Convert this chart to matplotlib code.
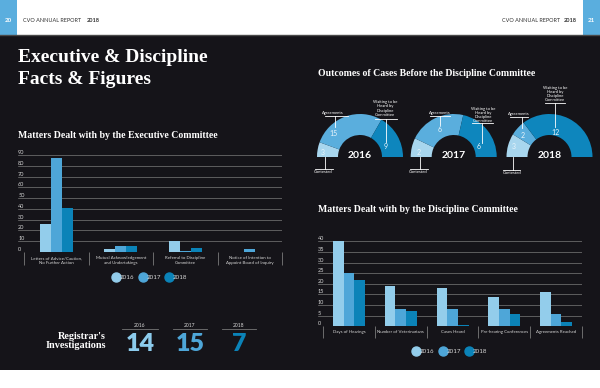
import matplotlib
matplotlib.use("Agg")
import matplotlib.pyplot as plt
import numpy as np
from matplotlib.lines import Line2D
from matplotlib.patches import Rectangle

# Data
years = ["2016", "2017", "2018"]

exec_categories = ["Letters of Advice/Caution,\nNo Further Action",
                   "Mutual Acknowledgement\nand Undertakings",
                   "Referral to Discipline\nCommittee",
                   "Notice of Intention to\nAppoint Board of Inquiry"]
exec_2016 = [26, 3, 10, 0]
exec_2017 = [87, 6, 1, 3]
exec_2018 = [41, 6, 4, 0]

disc_categories = ["Days of Hearings", "Number of Veterinarians", "Cases Heard",
                   "Pre-hearing Conferences", "Agreements Reached"]
disc_2016 = [40, 19, 18, 14, 16]
disc_2017 = [25, 8, 8, 8, 6]
disc_2018 = [22, 7, 0.5, 6, 2]

outcome_labels = ["Contested", "Agreements", "Waiting to be\nHeard by\nDiscipline\nCommittee"]
outcomes_2016 = [3, 15, 9]
outcomes_2017 = [2, 6, 6]
outcomes_2018 = [3, 2, 12]

registrar_investigations = [14, 15, 7]

# Style
W, H = 600, 388
DARK = "#151419"
year_colors = ["#93cdeb", "#4ea6d8", "#0b83b8"]
ring_colors = ["#a8d6ee", "#5aaedd", "#0e86bd"]
SERIF = "Liberation Serif"
SANS = "Lato"
LIGHT = "#d6d6d6"
GRID = "#7a7a7a"

fig = plt.figure(figsize=(W / 100, H / 100), dpi=100, facecolor="white")

bg = fig.add_axes([0, 0, 1, 1])
bg.set_xlim(0, W)
bg.set_ylim(H, 0)
bg.axis("off")
bg.add_patch(Rectangle((0, 35), W, 335, color=DARK, lw=0))
bg.plot([0, W], [35, 35], color="#4a4a4a", lw=1)
bg.add_patch(Rectangle((0, 0), 17, 35, color="#5aaede", lw=0))
bg.add_patch(Rectangle((583, 0), 17, 35, color="#5aaede", lw=0))
bg.text(8.5, 20, "20", color="white", fontsize=4.5, fontweight="bold", family=SANS, ha="center", va="center")
bg.text(591.5, 20, "21", color="white", fontsize=4.5, fontweight="bold", family=SANS, ha="center", va="center")
bg.text(23, 20, "CVO ANNUAL REPORT", color="#333333", fontsize=4.0, family=SANS, ha="left", va="center")
bg.text(86.5, 20, "2018", color="#333333", fontsize=4.0, fontweight="bold", family=SANS, ha="left", va="center")
bg.text(560.5, 20, "CVO ANNUAL REPORT", color="#333333", fontsize=4.0, family=SANS, ha="right", va="center")
bg.text(577, 20, "2018", color="#333333", fontsize=4.0, fontweight="bold", family=SANS, ha="right", va="center")

# Titles
bg.text(18, 62, "Executive & Discipline", color="white", fontsize=14, fontweight="bold", family=SERIF, va="baseline")
bg.text(18, 83.5, "Facts & Figures", color="white", fontsize=14, fontweight="bold", family=SERIF, va="baseline")
bg.text(18, 135, "Matters Dealt with by the Executive Committee", color="white", fontsize=7, fontweight="bold",
        family=SERIF, va="center")
bg.text(318, 74, "Outcomes of Cases Before the Discipline Committee", color="white", fontsize=7, fontweight="bold",
        family=SERIF, va="center")
bg.text(318, 210, "Matters Dealt with by the Discipline Committee", color="white", fontsize=7, fontweight="bold",
        family=SERIF, va="center")


def rect_px(x0, y0, x1, y1):
    """Pixel box (top-left origin) to figure fraction rect."""
    return [x0 / W, (H - y1) / H, (x1 - x0) / W, (y1 - y0) / H]


def bar_chart(box, xpad, categories, series, ymax, step, bar_w, sep_len, legend_xy):
    ax = fig.add_axes(rect_px(*box))
    ax.set_facecolor("none")
    n = len(categories)
    centers = np.arange(n) + 0.5
    for i, (vals, col) in enumerate(zip(series, year_colors)):
        ax.bar(centers + (i - 1) * bar_w, vals, width=bar_w, color=col, zorder=3)
    ax.set_xlim(-xpad, n)
    ax.set_ylim(0, ymax)
    ax.set_yticks(np.arange(0, ymax + 1, step))
    ax.grid(axis="y", color=GRID, lw=0.5)
    ax.tick_params(axis="y", length=0, pad=0, labelsize=4, labelcolor=LIGHT)
    for lbl in ax.get_yticklabels():
        lbl.set_ha("left")
        lbl.set_va("bottom")
        lbl.set_family(SANS)
    ax.set_xticks(np.arange(n + 1))
    ax.set_xticklabels([])
    ax.set_xticks(centers, minor=True)
    ax.set_xticklabels(categories, minor=True, fontsize=3.2, color=LIGHT, family=SANS, linespacing=1.15)
    ax.tick_params(axis="x", which="major", length=sep_len, width=0.6, color=GRID, direction="out")
    ax.tick_params(axis="x", which="minor", length=0, pad=3)
    for s in ax.spines.values():
        s.set_visible(False)
    handles = [Line2D([], [], marker="o", ls="", ms=6.5, color=c) for c in year_colors]
    ax.legend(handles, years, loc="center", bbox_to_anchor=(legend_xy[0] / W, 1 - legend_xy[1] / H),
              bbox_transform=fig.transFigure, ncol=3, frameon=False, labelcolor=LIGHT,
              handletextpad=0.1, columnspacing=0.8, handlelength=1, prop={"family": SANS, "size": 4.5})
    return ax


bar_chart((18.2, 155, 282, 252), 0.09, exec_categories, [exec_2016, exec_2017, exec_2018],
          90, 10, 0.17, 9.5, (150, 277))
bar_chart((318, 241.3, 582, 326.3), 0.1, disc_categories, [disc_2016, disc_2017, disc_2018],
          40, 5, 0.207, 8.5, (450, 351))

# Half donuts: axes box of 100x100 px, data units are pixels from the centre
donuts = [
    ("2016", outcomes_2016, 360.0,
     [(-36.7, -15.3), (-27, 43.7), (25, 48.5)],          # category label
     [(-45, -27, -12), (-35, -12, 41.3), (15, 37, 38)],    # hline x0, x1, y
     [(-35, -12, 0), (-25, 41.3, 30), (25.7, 38, 15)],     # vline x, y0, y1
     [(-37, 4.5), (-26, 23.7), (25.7, 10.3)]),             # value position
    ("2017", outcomes_2017, 453.7,
     [(-35.4, -15.3), (-13.7, 43.7), (29.3, 42)],
     [(-43.7, -25.7, -12), (-23.7, -3.7, 41.3), (18.3, 39.3, 33.7)],
     [(-33.7, -12, 0), (-13.7, 41.3, 32), (28.6, 33.7, 14)],
     [(-35.4, 4.7), (-13.7, 27.5), (25.3, 10.3)]),
    ("2018", outcomes_2018, 549.5,
     [(-37.2, -16.3), (-31.2, 43), (5.5, 63)],
     [(-47, -30, -13), (-39.5, -21.5, 40.3), (-4.5, 15.5, 53.7)],
     [(-36.2, -13, 0), (-27.8, 40.3, 28.7), (5.5, 53.7, 30)],
     [(-36.2, 10.3), (-26.8, 22), (5.5, 24.5)]),
]
for year, vals, cx, lab_pos, hlines, vlines, val_pos in donuts:
    ax = fig.add_axes(rect_px(cx - 50, 80, cx + 50, 180))
    ax.set_facecolor("none")
    ax.axis("off")
    wedges, _ = ax.pie(vals + [sum(vals)], radius=43, startangle=180, counterclock=False,
                       colors=ring_colors + ["none"], wedgeprops={"width": 21, "lw": 0})
    ax.set_xlim(-50, 50)
    ax.set_ylim(-23, 77)
    ax.set_aspect("equal")
    ax.text(0, 2, year, color="white", fontsize=7.5, fontweight="bold", family=SANS, ha="center", va="center")
    for label, (lx, ly), (hx0, hx1, hy), (vx, vy0, vy1), v, (tx, ty) in zip(
            outcome_labels, lab_pos, hlines, vlines, vals, val_pos):
        ax.text(lx, ly, label, color="white", fontsize=3, family=SANS, ha="center", va="center",
                linespacing=1.1, clip_on=False)
        ax.plot([hx0, hx1], [hy, hy], color="white", lw=0.6, clip_on=False)
        ax.plot([vx, vx], [vy0, vy1], color="white", lw=0.6, clip_on=False)
        ax.text(tx, ty, str(v), color="#e8f4fb", fontsize=5, family=SANS, ha="center", va="center")

# Registrar's investigations
bg.text(106, 341, "Registrar's\nInvestigations", color="white", fontsize=7.3, fontweight="bold", family=SERIF,
        ha="right", va="center", linespacing=1.1)
reg_x = [(122, 158), (173, 207), (222, 256)]
reg_colors = ["#8ccbec", "#4ea6d8", "#0b83b8"]
for yr, n, (x0, x1), col in zip(years, registrar_investigations, reg_x, reg_colors):
    xc = (x0 + x1) / 2
    bg.text(xc, 325.5, yr, color=LIGHT, fontsize=3.6, family=SANS, ha="center", va="center")
    bg.plot([x0, x1], [329, 329], color="#777777", lw=0.6)
    bg.text(xc, 344, str(n), color=col, fontsize=18, fontweight="heavy", family=SANS, ha="center", va="center")

fig.savefig("out.png", dpi=100, facecolor=fig.get_facecolor())
